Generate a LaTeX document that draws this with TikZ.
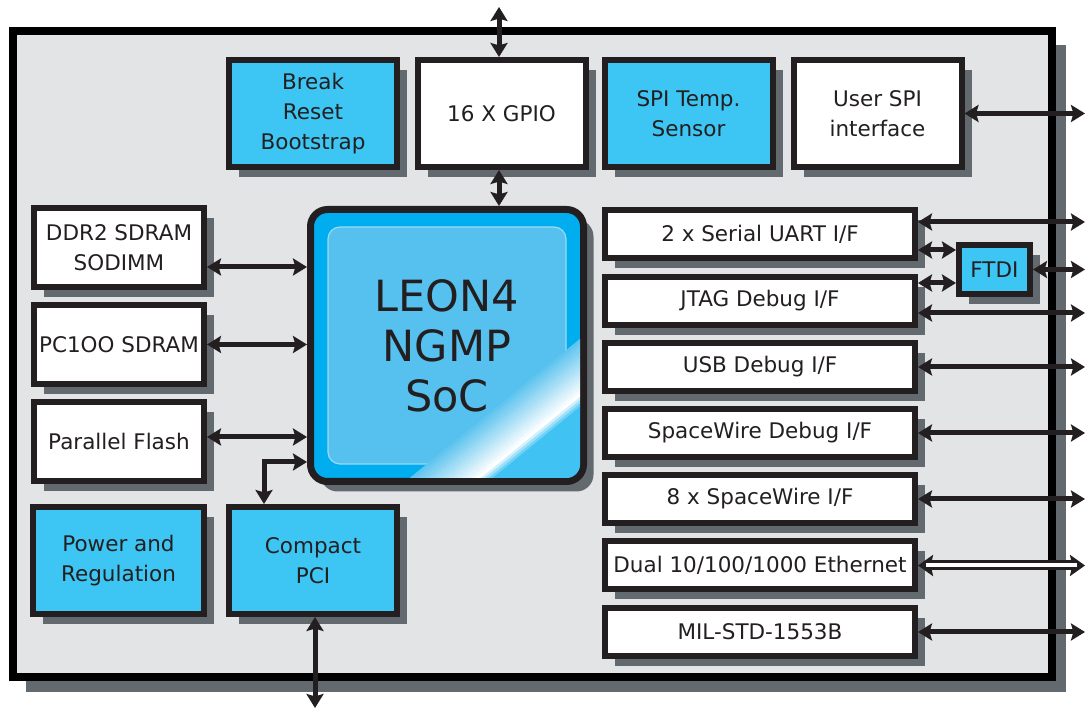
\documentclass[tikz,border=0pt]{standalone}
\usepackage{fontspec}
\setmainfont{DejaVu Sans}
\usetikzlibrary{arrows.meta,shadows}

\definecolor{ink}{HTML}{231F20}
\definecolor{boardgray}{HTML}{E3E4E6}
\definecolor{shadowgray}{HTML}{626A70}
\definecolor{cyanbox}{HTML}{3DC6F3}
\definecolor{socring}{HTML}{00AEEF}
\definecolor{socinner}{HTML}{56C1EE}
\definecolor{glosstail}{HTML}{40C2F3}

\begin{document}
\begin{tikzpicture}[x=0.5pt, y=-0.5pt,
    >={Stealth[length=7pt,width=8.5pt,inset=1.2pt]},
    block/.style={draw=ink, line width=3pt, fill=white, text=ink, align=center,
        inner sep=0pt, font=\fontsize{10.75}{15}\selectfont,
        drop shadow={shadow xshift=5pt, shadow yshift=-5pt, fill=shadowgray, opacity=1}},
    blueblock/.style={block, fill=cyanbox},
    topblock/.style={minimum width=84pt, minimum height=53.5pt},
    memblock/.style={block, minimum width=85pt, minimum height=39.5pt},
    ioblock/.style={block, minimum width=155pt, minimum height=24pt},
    socbox/.style={draw=ink, line width=3.5pt, fill=socring, rounded corners=8.5pt,
        minimum width=136.5pt, minimum height=136pt, inner sep=0pt,
        drop shadow={shadow xshift=5pt, shadow yshift=-5pt, fill=shadowgray, opacity=1}},
    soctext/.style={text=ink, align=center, font=\fontsize{21.5}{25}\selectfont},
    link/.style={<->, draw=ink, line width=2.5pt},
    ethlink/.style={<->, draw=ink, line width=5pt,
        >={Stealth[length=7.5pt,width=10.5pt,inset=1.2pt]}},
    ethcore/.style={draw=white, line width=2pt, shorten <=4pt, shorten >=4pt}]

    \useasboundingbox (0,0) rectangle (1088,710);

    % 板卡底框和阴影
    \fill[shadowgray] (26,45) rectangle (1066,692);
    \draw[draw=black, fill=boardgray, line width=4pt] (13,31.5) rectangle (1052,677.5);

    % 上排模块
    \node[blueblock, topblock] (brk) at (313,113.5) {Break\\Reset\\Bootstrap};
    \node[block, topblock] (gpio) at (501.5,113.5) {16 X GPIO};
    \node[blueblock, topblock] (spitemp) at (688.5,113.5) {SPI Temp.\\Sensor};
    \node[block, topblock] (userspi) at (877.5,113.5) {User SPI\\interface};

    % 左列存储器
    \node[memblock] (ddr) at (119,247.5) {DDR2 SDRAM\\SODIMM};
    \node[memblock] (pc) at (119,344.5) {PC1OO SDRAM};
    \node[memblock] (flash) at (119,441.5) {Parallel Flash};

    % 下排模块
    \node[blueblock, topblock, minimum width=85.5pt] (power) at (118.5,560.5) {Power and\\Regulation};
    \node[blueblock, topblock] (cpci) at (313,560.5) {Compact\\PCI};

    % 右列接口
    \node[ioblock] (uart) at (760,234.5) {2 x Serial UART I/F};
    \node[ioblock] (jtag) at (760,301) {JTAG Debug I/F};
    \node[ioblock] (usb) at (760,367) {USB Debug I/F};
    \node[ioblock] (swdbg) at (760,433) {SpaceWire Debug I/F};
    \node[ioblock] (spw) at (760,499) {8 x SpaceWire I/F};
    \node[ioblock] (eth) at (760,565.5) {Dual 10/100/1000 Ethernet};
    \node[ioblock] (mil) at (760,632) {MIL-STD-1553B};
    \node[blueblock, minimum width=35.5pt, minimum height=24.5pt] (ftdi) at (994.5,269.5) {FTDI};

    % 处理器芯片
    \node[socbox] (soc) at (447,345.5) {};
    \begin{scope}
        \clip[rounded corners=6.75pt] ([shift={(3.5pt,3.5pt)}]soc.south west)
            rectangle ([shift={(-3.5pt,-3.5pt)}]soc.north east);
        \fill[socinner, draw=socinner!60!white, line width=0.6pt, rounded corners=6pt]
            ([shift={(10.5pt,10.5pt)}]soc.south west)
            rectangle ([shift={(-10.5pt,-10.5pt)}]soc.north east);
        % 高光
        \begin{scope}[shift={(580,397)}, x={(-0.3875pt,-0.3165pt)}, y={(0.3165pt,-0.3875pt)}]
            \foreach \k in {0,...,14} {
                \pgfmathtruncatemacro\mix{(\k+1)*100/15}
                \fill[white!\mix!socinner] (-150,{-45+3*\k}) -- (250,{-45+3*\k})
                    -- (250,{-41.6+3*\k}) -- (-150,{-41.6+3*\k}) -- cycle;
            }
            \foreach \k in {0,...,3} {
                \pgfmathtruncatemacro\mix{100-(\k+1)*25}
                \fill[white!\mix!glosstail] (-150,{2.5*\k}) -- (250,{2.5*\k})
                    -- (250,{2.9+2.5*\k}) -- (-150,{2.9+2.5*\k}) -- cycle;
            }
            \fill[glosstail] (-150,10) -- (250,10) -- (250,160) -- (-150,160) -- cycle;
        \end{scope}
    \end{scope}
    \node[soctext] (soclabel) at (soc) {LEON4\\NGMP\\SoC};

    % 外部端点
    \coordinate (rim) at (1085,0);
    \coordinate (gpiobus) at (499,7);
    \coordinate (pcibus) at (315,708);

    % 上下方向的连线
    \draw[link] (gpiobus) -- (gpiobus |- gpio.north);
    \draw[link] (gpiobus |- gpio.south) -- (gpiobus |- soc.north);
    \draw[link] (pcibus |- cpci.south) -- (pcibus);

    % 左侧连线
    \draw[link] ([yshift=-9.75pt]ddr.east) -- ([yshift=-9.75pt]ddr.east -| soc.west);
    \draw[link] (pc.east) -- (pc.east -| soc.west);
    \draw[link] ([yshift=2.25pt]flash.east) -- ([yshift=2.25pt]flash.east -| soc.west);
    \draw[link] ([xshift=-24.5pt]cpci.north) |- ([yshift=-58.25pt]soc.west);

    % 右侧连线
    \draw[link] (userspi.east) -- (userspi.east -| rim);
    \draw[link] ([yshift=6.25pt]uart.east) -- ([yshift=6.25pt]uart.east -| rim);
    \draw[link] ([yshift=-7.75pt]uart.east) -- ([yshift=-7.75pt]uart.east -| ftdi.west);
    \draw[link] ([yshift=9pt]jtag.east) -- ([yshift=9pt]jtag.east -| ftdi.west);
    \draw[link] (ftdi.east) -- (ftdi.east -| rim);
    \draw[link] ([yshift=-6pt]jtag.east) -- ([yshift=-6pt]jtag.east -| rim);
    \draw[link] (usb.east) -- (usb.east -| rim);
    \draw[link] (swdbg.east) -- (swdbg.east -| rim);
    \draw[link] (spw.east) -- (spw.east -| rim);
    \draw[ethlink] (eth.east) -- (eth.east -| rim);
    \draw[ethcore] (eth.east) -- (eth.east -| rim);
    \draw[link] (mil.east) -- (mil.east -| rim);
\end{tikzpicture}
\end{document}
